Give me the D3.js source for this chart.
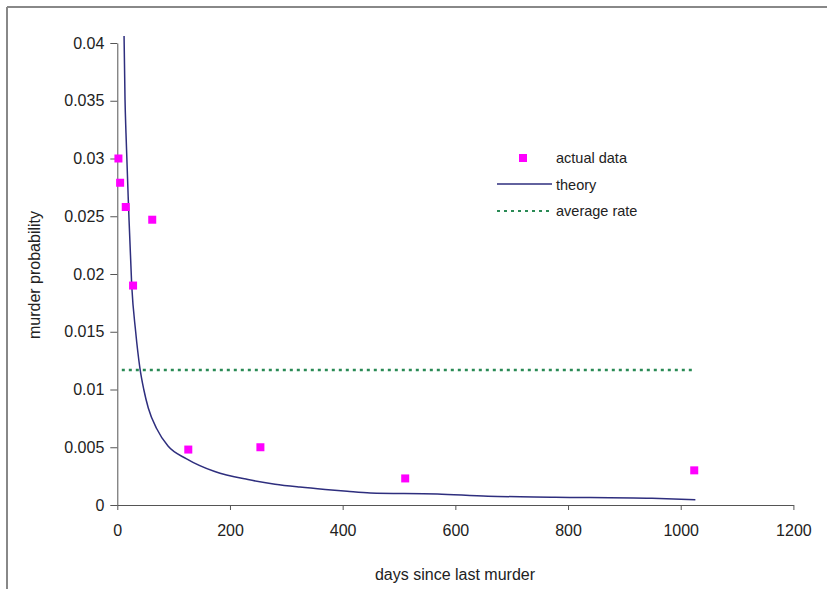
<!DOCTYPE html>
<html>
<head>
<meta charset="utf-8">
<script src="https://cdn.jsdelivr.net/npm/d3@7"></script>
<style>
	body { margin: 0; background: #fff; }
	svg { display: block; font-family: "Liberation Sans", Arial, sans-serif; }
	.axis path, .axis line { stroke: #555; }
	.axis text { font-size: 16px; fill: #222; }
	.axisTitle { font-size: 16px; fill: #222; }
	.legendText { font-size: 14.5px; fill: #222; }
</style>
</head>
<body>
<script>
(function(){

	//actual data: days since last murder and observed probability
	var actualDays = [2, 5, 15, 62, 28, 126, 254, 511, 1024];
	var actualProb = [0.0300, 0.0279, 0.0258, 0.0247, 0.0190, 0.0048, 0.0050, 0.0023, 0.0030];

	//theory curve
	var theoryDays = [12, 13.7, 15.4, 20, 25.6, 32.6, 40, 47, 55, 70, 90, 123, 173, 232, 280, 324, 369, 408, 449, 568, 658, 777, 949, 1026];
	var theoryProb = [0.0406, 0.0351, 0.0322, 0.0258, 0.0190, 0.0150, 0.0119, 0.0100, 0.0084, 0.0066, 0.0051, 0.0040, 0.0029, 0.0022, 0.0018, 0.00155, 0.00134, 0.00118, 0.00104, 0.00095, 0.00076, 0.00068, 0.00058, 0.00046];

	//average rate line
	var averageDays = [8, 1026];
	var averageRate = 0.01169;

	//tick values and labels
	var xTicks = [0, 200, 400, 600, 800, 1000, 1200];
	var yTicks = [0, 0.005, 0.01, 0.015, 0.02, 0.025, 0.03, 0.035, 0.04];
	var yTickLabels = ["0", "0.005", "0.01", "0.015", "0.02", "0.025", "0.03", "0.035", "0.04"];

	var legendLabels = ["actual data", "theory", "average rate"];

	var width = 827,
		height = 589;

	var svg = d3.select("body")
		.append("svg")
		.attr("width", width)
		.attr("height", height);

	//frame borders on top and left
	svg.append("line")
		.attr("x1", 7).attr("y1", 7).attr("x2", width).attr("y2", 7)
		.style("stroke", "#888").style("stroke-width", 2);
	svg.append("line")
		.attr("x1", 7).attr("y1", 7).attr("x2", 7).attr("y2", height)
		.style("stroke", "#888").style("stroke-width", 2);

	//scales
	var xScale = d3.scaleLinear()
		.domain([0, 1200])
		.range([117.3, 793.4]);

	var yScale = d3.scaleLinear()
		.domain([0, 0.04])
		.range([505, 43]);

	//x axis
	var xAxis = d3.axisBottom(xScale)
		.tickValues(xTicks)
		.tickFormat(d3.format("d"))
		.tickSizeInner(5)
		.tickSizeOuter(0)
		.tickPadding(15);

	svg.append("g")
		.attr("class", "axis")
		.attr("transform", "translate(0," + yScale(0) + ")")
		.call(xAxis);

	//y axis
	var yAxis = d3.axisLeft(yScale)
		.tickValues(yTicks)
		.tickSizeInner(7)
		.tickSizeOuter(0)
		.tickPadding(6)
		.tickFormat(function(d, i){ return yTickLabels[i]; });

	svg.append("g")
		.attr("class", "axis")
		.attr("transform", "translate(" + xScale(0) + ",0)")
		.call(yAxis);

	//axis titles
	svg.append("text")
		.attr("class", "axisTitle")
		.attr("text-anchor", "middle")
		.attr("x", 455)
		.attr("y", 580)
		.text("days since last murder");

	svg.append("text")
		.attr("class", "axisTitle")
		.attr("text-anchor", "middle")
		.attr("transform", "translate(39.5,275) rotate(-90)")
		.text("murder probability");

	//average rate dotted line
	svg.append("line")
		.attr("x1", xScale(averageDays[0]))
		.attr("x2", xScale(averageDays[1]))
		.attr("y1", yScale(averageRate))
		.attr("y2", yScale(averageRate))
		.style("stroke", "#2a8a55")
		.style("stroke-width", 2.5)
		.style("stroke-dasharray", "3,4");

	//theory curve, smoothed between the read points
	var theoryData = theoryDays.map(function(d, i){ return [d, theoryProb[i]]; });
	var line = d3.line()
		.curve(d3.curveMonotoneX)
		.x(function(d){ return xScale(d[0]); })
		.y(function(d){ return yScale(d[1]); });

	svg.append("path")
		.datum(theoryData)
		.attr("d", line)
		.style("fill", "none")
		.style("stroke", "#2e2e7e")
		.style("stroke-width", 1.5);

	//actual data squares
	var actualData = actualDays.map(function(d, i){ return [d, actualProb[i]]; });
	svg.selectAll(".point")
		.data(actualData)
		.enter()
		.append("rect")
		.attr("class", "point")
		.attr("x", function(d){ return xScale(d[0]) - 4; })
		.attr("y", function(d){ return yScale(d[1]) - 4; })
		.attr("width", 8)
		.attr("height", 8)
		.style("fill", "#ff00ff");

	//legend
	var legend = svg.append("g").attr("class", "legend");

	legend.append("rect")
		.attr("x", 519).attr("y", 154)
		.attr("width", 8).attr("height", 8)
		.style("fill", "#ff00ff");

	legend.append("line")
		.attr("x1", 497).attr("x2", 552).attr("y1", 184).attr("y2", 184)
		.style("stroke", "#2e2e7e").style("stroke-width", 1.5);

	legend.append("line")
		.attr("x1", 497).attr("x2", 552).attr("y1", 211).attr("y2", 211)
		.style("stroke", "#2a8a55").style("stroke-width", 2)
		.style("stroke-dasharray", "3,4");

	legend.selectAll(".legendText")
		.data(legendLabels)
		.enter()
		.append("text")
		.attr("class", "legendText")
		.attr("x", 556)
		.attr("y", function(d, i){ return 163 + i * 26.5; })
		.text(function(d){ return d; });

})();
</script>
</body>
</html>
